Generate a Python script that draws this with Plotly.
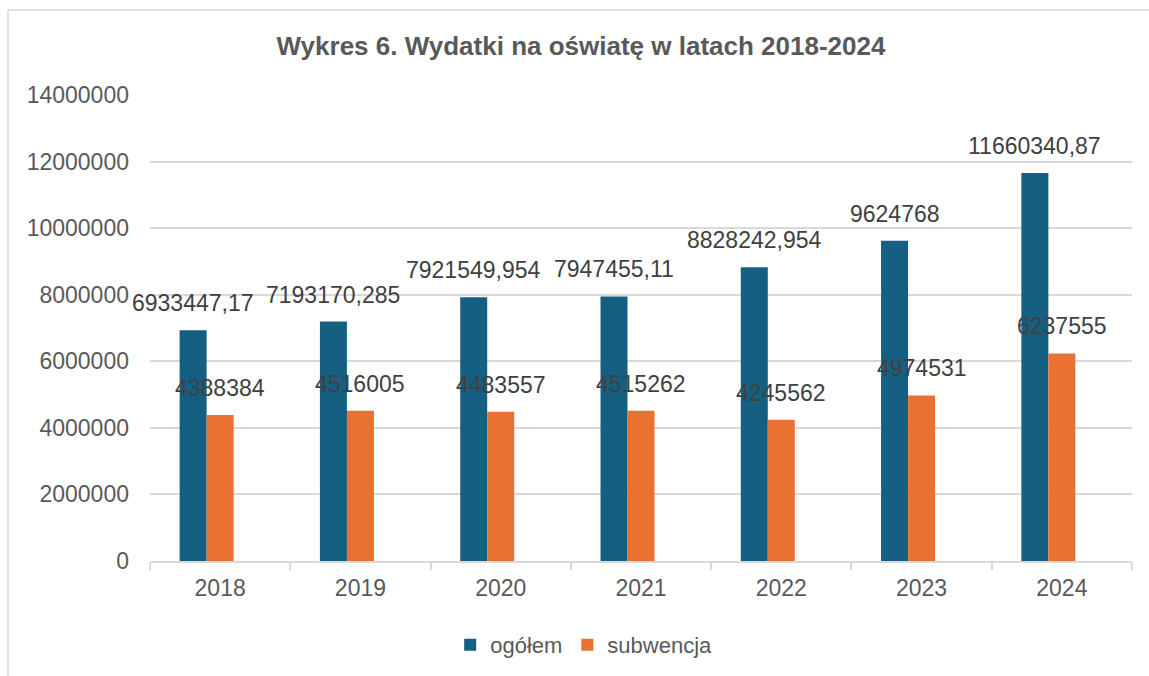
import plotly.graph_objects as go

years = ["2018", "2019", "2020", "2021", "2022", "2023", "2024"]
ogolem = [6933447.17, 7193170.285, 7921549.954, 7947455.11, 8828242.954, 9624768, 11660340.87]
subwencja = [4388384, 4516005, 4483557, 4515262, 4245562, 4974531, 6237555]
y_ticks = [0, 2000000, 4000000, 6000000, 8000000, 10000000, 12000000, 14000000]

BLUE = "#156082"
ORANGE = "#E97132"
GRID = "#d9d9d9"
FONT = "Liberation Sans"

W, H = 1149, 676
ML, MR, MT, MB = 150, 17, 95, 115
PW = W - ML - MR
PH = H - MT - MB

bw = 27 / (PW / len(years))  # bar width in category units


def fmt(v):
    if float(v).is_integer():
        return str(int(v))
    return str(v).replace(".", ",")


fig = go.Figure()
fig.add_trace(go.Bar(x=years, y=ogolem, name="ogółem", marker=dict(color=BLUE, line=dict(width=0)),
                     width=bw, offset=-1.5 * bw))
fig.add_trace(go.Bar(x=years, y=subwencja, name="subwencja", marker=dict(color=ORANGE, line=dict(width=0)),
                     width=bw, offset=-0.5 * bw))

annotations = []
for i, (a, b) in enumerate(zip(ogolem, subwencja)):
    annotations.append(dict(x=i - bw, y=a, text=fmt(a), showarrow=False, yanchor="bottom",
                            xanchor="center", yshift=12, font=dict(family=FONT, size=23, color="#404040")))
    annotations.append(dict(x=i, y=b, text=fmt(b), showarrow=False, yanchor="bottom",
                            xanchor="center", yshift=12, font=dict(family=FONT, size=23, color="#404040")))


def px_x(px):
    return (px - ML) / PW


def px_y(py):
    return (H - MB - py) / PH


shapes = [
    dict(type="line", xref="paper", yref="paper", x0=px_x(8), x1=px_x(W + 5), y0=px_y(10), y1=px_y(10),
         line=dict(color=GRID, width=1.5)),
    dict(type="line", xref="paper", yref="paper", x0=px_x(8), x1=px_x(8), y0=px_y(10), y1=px_y(H + 5),
         line=dict(color=GRID, width=1.5)),
]

fig.update_layout(
    width=W, height=H,
    margin=dict(l=ML, r=MR, t=MT, b=MB),
    paper_bgcolor="white", plot_bgcolor="white",
    barmode="overlay",
    title=dict(text="<b>Wykres 6. Wydatki na oświatę w latach 2018-2024</b>", x=581 / W, xref="container",
               xanchor="center", y=1 - 46 / H, yanchor="middle",
               font=dict(family=FONT, size=26, color="#595959")),
    font=dict(family=FONT, size=23, color="#595959"),
    showlegend=True,
    legend=dict(orientation="h", x=0.508, xref="container", xanchor="center", y=1 - 645 / H, yref="container",
                yanchor="middle", font=dict(family=FONT, size=22, color="#595959"),
                itemwidth=30, traceorder="normal"),
    annotations=annotations,
    shapes=shapes,
)
fig.update_xaxes(type="category", range=[-0.5, len(years) - 0.5], showline=True, linecolor=GRID, linewidth=1.5,
                 ticks="outside", tickson="boundaries", ticklen=7, tickcolor=GRID, tickwidth=1.5, showgrid=False,
                 tickfont=dict(family=FONT, size=23, color="#595959"), ticklabelstandoff=6)
fig.update_yaxes(range=[0, 14000000], tickvals=y_ticks, tickformat="d", showgrid=True, gridcolor=GRID,
                 gridwidth=1.5, showline=False, zeroline=False, ticks="",
                 tickfont=dict(family=FONT, size=23, color="#595959"), ticklabelstandoff=20)

fig.write_html("out.html")
